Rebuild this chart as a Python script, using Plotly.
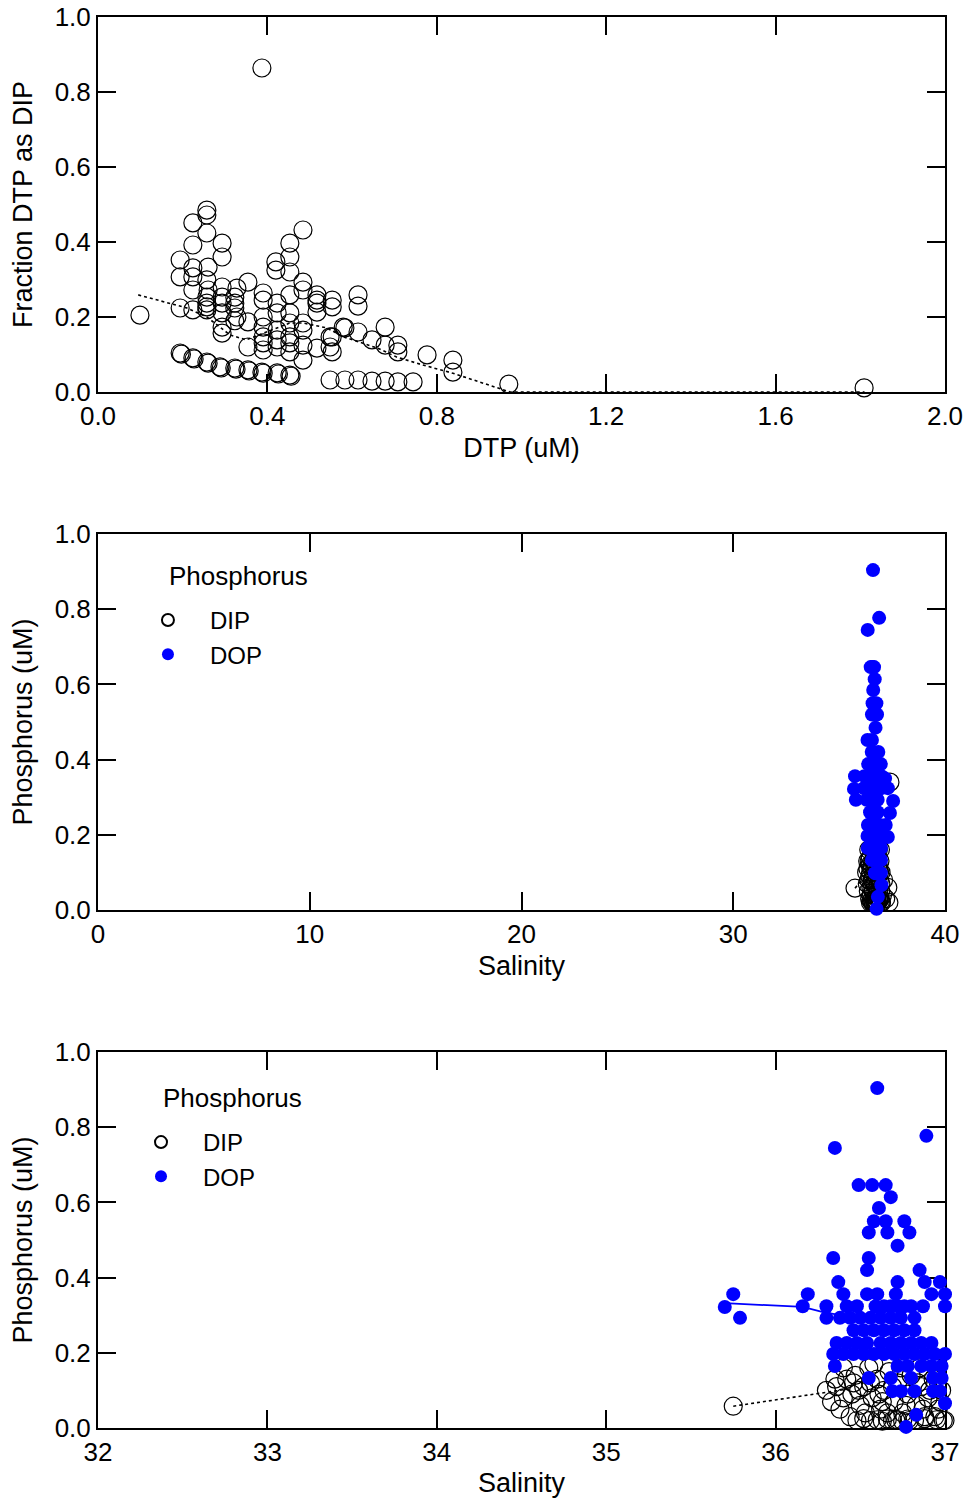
import plotly.graph_objects as go

# ---------------- Top panel: fraction of DTP as DIP vs DTP ----------------
dtp = [0.099, 0.387,
       0.194, 0.224, 0.257, 0.288, 0.323, 0.354, 0.387, 0.423, 0.453,
       0.197, 0.227, 0.260, 0.291, 0.326, 0.357, 0.390, 0.426, 0.456,
       0.548, 0.583, 0.614, 0.647, 0.678, 0.708, 0.744, 0.970, 1.809,
       0.257, 0.257, 0.224, 0.257, 0.224, 0.293, 0.293, 0.194, 0.224, 0.260,
       0.194, 0.224, 0.257, 0.293, 0.224, 0.260, 0.328, 0.354, 0.257, 0.257,
       0.257, 0.257, 0.293, 0.293, 0.323, 0.323, 0.323, 0.390, 0.390, 0.194,
       0.224, 0.293, 0.293, 0.293, 0.328, 0.354, 0.390, 0.390, 0.390, 0.390,
       0.390, 0.354, 0.423, 0.423, 0.423, 0.423, 0.423,
       0.453, 0.453, 0.453, 0.484, 0.484, 0.453, 0.517, 0.517, 0.553, 0.553,
       0.614, 0.614, 0.453, 0.484, 0.517, 0.583, 0.614, 0.678, 0.553, 0.553,
       0.647, 0.678, 0.708, 0.708, 0.777, 0.838, 0.838, 0.517, 0.484, 0.484,
       0.453, 0.453, 0.484, 0.484, 0.453, 0.453, 0.548, 0.548, 0.579, 0.517,
       0.420, 0.420, 0.323]
frac_dip = [0.205, 0.864,
            0.104, 0.091, 0.080, 0.067, 0.064, 0.059, 0.053, 0.051, 0.045,
            0.101, 0.088, 0.077, 0.064, 0.061, 0.056, 0.050, 0.048, 0.042,
            0.032, 0.032, 0.032, 0.029, 0.029, 0.027, 0.027, 0.021, 0.011,
            0.485, 0.472, 0.451, 0.424, 0.392, 0.397, 0.360, 0.352, 0.331, 0.333,
            0.307, 0.307, 0.299, 0.280, 0.272, 0.272, 0.277, 0.293, 0.253, 0.237,
            0.227, 0.219, 0.253, 0.237, 0.253, 0.237, 0.224, 0.264, 0.245, 0.224,
            0.219, 0.211, 0.173, 0.157, 0.200, 0.187, 0.200, 0.173, 0.147, 0.131,
            0.112, 0.120, 0.237, 0.211, 0.165, 0.139, 0.120,
            0.397, 0.360, 0.320, 0.293, 0.272, 0.259, 0.259, 0.237, 0.245, 0.227,
            0.259, 0.229, 0.211, 0.184, 0.213, 0.171, 0.160, 0.173, 0.147, 0.107,
            0.139, 0.125, 0.125, 0.107, 0.099, 0.085, 0.053, 0.117, 0.125, 0.085,
            0.131, 0.107, 0.432, 0.165, 0.184, 0.147, 0.147, 0.120, 0.173, 0.245,
            0.347, 0.325, 0.190]

# smoothed fit (dotted) in the top panel
fit_dtp = [0.095, 0.17, 0.21, 0.257, 0.312, 0.35, 0.385, 0.423, 0.453, 0.484,
           0.54, 0.58, 0.62, 0.66, 0.706, 0.767, 0.838, 0.886, 0.942, 0.973, 1.81]
fit_frac = [0.259, 0.235, 0.224, 0.200, 0.152, 0.139, 0.155, 0.171, 0.184, 0.184,
            0.171, 0.147, 0.133, 0.117, 0.093, 0.072, 0.050, 0.032, 0.011, 0.0, 0.0]

# ---------------- Phosphorus vs Salinity ----------------
dip_sal = [35.75,
           36.48, 36.52, 36.56, 36.60, 36.63, 36.66, 36.69, 36.72, 36.75, 36.78,
           36.82, 36.88, 36.95, 37.00,
           36.30, 36.36, 36.33, 36.38, 36.42, 36.40, 36.45, 36.47, 36.50, 36.52,
           36.55, 36.57, 36.60, 36.62, 36.64, 36.67, 36.70, 36.72, 36.75, 36.78,
           36.80, 36.83, 36.86, 36.88, 36.90, 36.93, 36.96, 36.98, 37.05, 37.10,
           37.20, 37.30, 37.35, 37.40, 36.44, 36.53, 36.35, 36.58, 36.66, 36.74,
           36.85, 36.95, 36.99, 36.40, 36.49, 36.61, 36.69, 36.77, 36.84, 36.91,
           36.97, 36.46, 36.56, 36.63, 36.71, 36.79, 36.87, 36.94]
dip_val = [0.058,
           0.020, 0.025, 0.020, 0.022, 0.018, 0.024, 0.020, 0.022, 0.018, 0.024,
           0.020, 0.025, 0.022, 0.020,
           0.100, 0.110, 0.070, 0.050, 0.130, 0.160, 0.090, 0.140, 0.060, 0.110,
           0.160, 0.080, 0.130, 0.050, 0.100, 0.150, 0.070, 0.120, 0.040, 0.090,
           0.140, 0.060, 0.110, 0.030, 0.080, 0.130, 0.050, 0.100, 0.040, 0.080,
           0.030, 0.060, 0.020, 0.340, 0.030, 0.040, 0.130, 0.170, 0.040, 0.160,
           0.160, 0.160, 0.020, 0.080, 0.100, 0.090, 0.110, 0.060, 0.120, 0.100,
           0.070, 0.120, 0.120, 0.070, 0.020, 0.020, 0.050, 0.030]

dop_sal = [36.60, 36.89, 36.35, 36.49, 36.57, 36.65, 36.68, 36.61, 36.58, 36.65,
           36.76, 36.55, 36.66, 36.79, 36.72, 36.34, 36.55, 36.54, 36.85,
           36.37, 36.72, 36.88, 36.97,
           35.75, 36.19, 36.40, 36.54, 36.60, 36.71, 36.92, 37.00,
           35.70, 36.16, 36.30, 36.42, 36.48, 36.59, 36.64, 36.68, 36.72, 36.76,
           36.80, 36.87, 37.00,
           35.79, 36.30, 36.38, 36.44, 36.50, 36.56, 36.62, 36.68, 36.74, 36.82,
           36.46, 36.52, 36.58, 36.64, 36.70, 36.76, 36.82,
           36.36, 36.42, 36.48, 36.54, 36.62, 36.68, 36.74, 36.80, 36.86, 36.92,
           36.34, 36.40, 36.46, 36.52, 36.58, 36.64, 36.70, 36.76, 36.82, 36.88,
           36.94, 37.00,
           36.35, 36.72, 36.78, 36.86, 36.92, 36.98,
           36.55, 36.68, 36.80, 36.93, 36.98,
           36.69, 36.74, 36.82, 36.93, 36.97,
           37.00, 36.83, 36.77,
           37.30, 37.55, 37.40, 37.30, 37.17, 37.20]
dop_val = [0.904, 0.777, 0.745, 0.646, 0.646, 0.646, 0.614, 0.585, 0.550, 0.550,
           0.550, 0.520, 0.520, 0.520, 0.485, 0.452, 0.452, 0.420, 0.420,
           0.388, 0.388, 0.388, 0.388,
           0.356, 0.356, 0.356, 0.356, 0.356, 0.356, 0.356, 0.356,
           0.322, 0.324, 0.324, 0.324, 0.324, 0.324, 0.324, 0.324, 0.324, 0.324,
           0.324, 0.324, 0.324,
           0.293, 0.293, 0.293, 0.293, 0.293, 0.293, 0.293, 0.293, 0.293, 0.293,
           0.260, 0.260, 0.260, 0.260, 0.260, 0.260, 0.260,
           0.226, 0.226, 0.226, 0.226, 0.226, 0.226, 0.226, 0.226, 0.226, 0.226,
           0.197, 0.197, 0.197, 0.197, 0.197, 0.197, 0.197, 0.197, 0.197, 0.197,
           0.197, 0.197,
           0.165, 0.165, 0.165, 0.165, 0.165, 0.165,
           0.133, 0.133, 0.133, 0.133, 0.133,
           0.098, 0.098, 0.098, 0.098, 0.098,
           0.066, 0.035, 0.003,
           0.324, 0.290, 0.258, 0.194, 0.350, 0.226]

# fitted lines in the salinity panels
dip_fit_sal = [35.75, 36.26, 36.45]
dip_fit_val = [0.058, 0.093, 0.105]
dop_fit_sal = [35.70, 36.16, 36.28, 36.45]
dop_fit_val = [0.332, 0.322, 0.308, 0.295]

FONT = "Liberation Sans, Arial, sans-serif"
FS = 26
TFS = 27
BLUE = "#0000FF"

fig = go.Figure()

# top panel
fig.add_trace(go.Scatter(x=fit_dtp, y=fit_frac, mode="lines", xaxis="x", yaxis="y",
                         line=dict(color="black", width=1.6, dash="dot"),
                         showlegend=False, hoverinfo="skip"))
fig.add_trace(go.Scatter(x=dtp, y=frac_dip, mode="markers", xaxis="x", yaxis="y",
                         marker=dict(symbol="circle-open", size=18, color="black",
                                     line=dict(width=1.2)),
                         showlegend=False, cliponaxis=False))

# middle (axes x2/y2) and bottom (x3/y3) panels
for xa, ya, lg in [("x2", "y2", "legend"), ("x3", "y3", "legend2")]:
    fig.add_trace(go.Scatter(x=dip_sal, y=dip_val, mode="markers", xaxis=xa, yaxis=ya,
                             name="DIP", legend=lg, cliponaxis=False,
                             marker=dict(symbol="circle-open", size=18, color="black",
                                         line=dict(width=1.2))))
    fig.add_trace(go.Scatter(x=dip_fit_sal, y=dip_fit_val, mode="lines", xaxis=xa, yaxis=ya,
                             line=dict(color="black", width=1.6, dash="dot"),
                             showlegend=False, hoverinfo="skip"))
    fig.add_trace(go.Scatter(x=dop_fit_sal, y=dop_fit_val, mode="lines", xaxis=xa, yaxis=ya,
                             line=dict(color=BLUE, width=1.8),
                             showlegend=False, hoverinfo="skip"))
    fig.add_trace(go.Scatter(x=dop_sal, y=dop_val, mode="markers", xaxis=xa, yaxis=ya,
                             name="DOP", legend=lg, cliponaxis=False,
                             marker=dict(symbol="circle", size=14, color=BLUE)))

axis_common = dict(showline=True, linecolor="black", linewidth=2, mirror="allticks",
                   ticks="inside", ticklen=18, tickwidth=1.6, tickcolor="black",
                   showgrid=False, zeroline=False, layer="below traces", automargin=False,
                   tickfont=dict(family=FONT, size=FS, color="black"))

def yax(domain, anchor):
    return dict(axis_common, domain=domain, anchor=anchor, range=[0, 1], dtick=0.2,
                tick0=0, tickformat=".1f")

top_dom = [0.73423, 1.0]
mid_dom = [0.36712, 0.63359]
bot_dom = [0.0, 0.26648]

LEG_FS = 24

layout = dict(
    width=969, height=1498,
    margin=dict(l=98, r=24, t=17, b=70, autoexpand=False),
    paper_bgcolor="white", plot_bgcolor="white",
    font=dict(family=FONT, size=FS, color="black"),
    xaxis=dict(axis_common, domain=[0, 1], anchor="y", range=[0, 2], dtick=0.4,
               tick0=0, tickformat=".1f",
               title=dict(text="DTP (uM)", font=dict(family=FONT, size=TFS), standoff=8)),
    yaxis=yax(top_dom, "x") | dict(title=dict(text="Fraction DTP as DIP",
                                               font=dict(family=FONT, size=TFS), standoff=14)),
    xaxis2=dict(axis_common, domain=[0, 1], anchor="y2", range=[0, 40], dtick=10, tick0=0,
                title=dict(text="Salinity", font=dict(family=FONT, size=TFS), standoff=8)),
    yaxis2=yax(mid_dom, "x2") | dict(title=dict(text="Phosphorus (uM)",
                                                 font=dict(family=FONT, size=TFS), standoff=14)),
    xaxis3=dict(axis_common, domain=[0, 1], anchor="y3", range=[32, 37], dtick=1, tick0=32,
                title=dict(text="Salinity", font=dict(family=FONT, size=TFS), standoff=8)),
    yaxis3=yax(bot_dom, "x3") | dict(title=dict(text="Phosphorus (uM)",
                                                 font=dict(family=FONT, size=TFS), standoff=14)),
    legend=dict(x=0.033, y=0.5883, xanchor="left", yanchor="top", bgcolor="rgba(0,0,0,0)",
                font=dict(family=FONT, size=LEG_FS), itemsizing="constant", itemwidth=74,
                tracegroupgap=0),
    legend2=dict(x=0.0248, y=0.2183, xanchor="left", yanchor="top", bgcolor="rgba(0,0,0,0)",
                 font=dict(family=FONT, size=LEG_FS), itemsizing="constant", itemwidth=74,
                 tracegroupgap=0),
    showlegend=True,
    annotations=[
        dict(text="Phosphorus", xref="paper", yref="paper", x=0.0815, y=0.6038,
             xanchor="left", yanchor="middle", showarrow=False,
             font=dict(family=FONT, size=FS, color="black")),
        dict(text="Phosphorus", xref="paper", yref="paper", x=0.0744, y=0.2339,
             xanchor="left", yanchor="middle", showarrow=False,
             font=dict(family=FONT, size=FS, color="black")),
    ],
)
fig.update_layout(**layout)
fig.write_html("out.html")
